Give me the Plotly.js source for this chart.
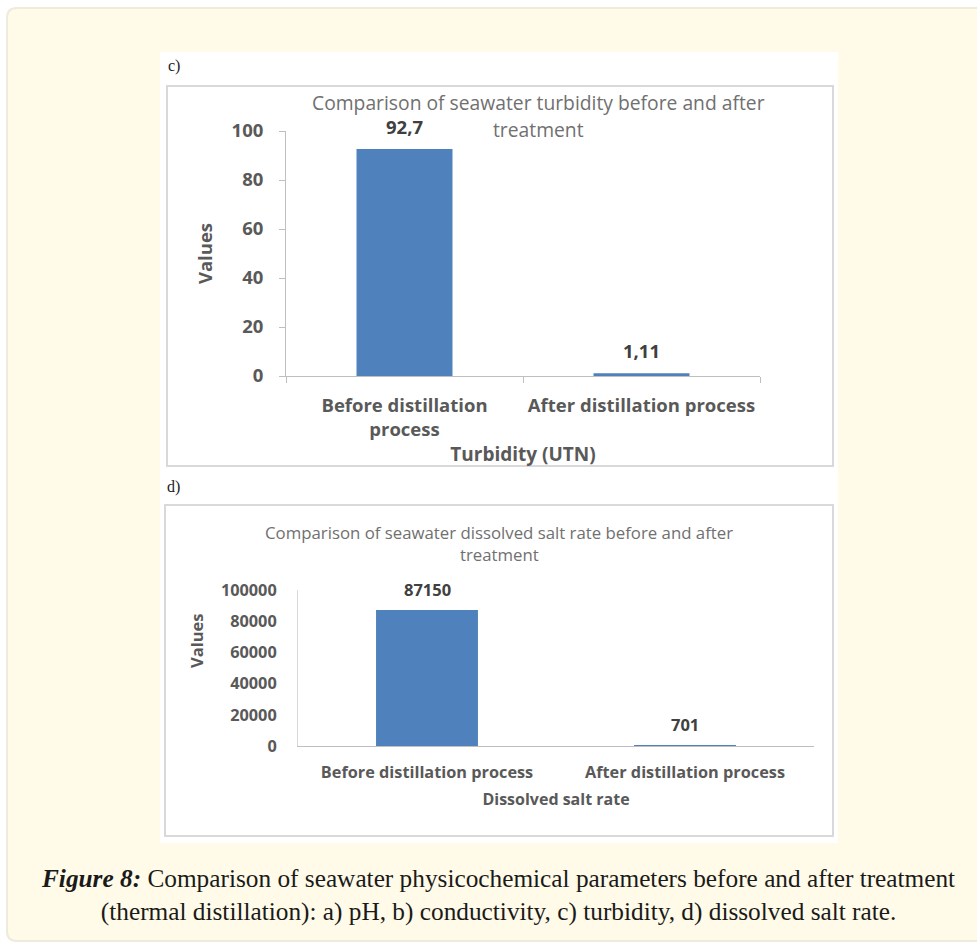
<!DOCTYPE html>
<html>
<head>
<meta charset="utf-8">
<script src="https://cdn.plot.ly/plotly-3.0.1.min.js"></script>
<style>
  html, body { margin: 0; padding: 0; background: #ffffff; }
  #fig { width: 977px; height: 943px; }
</style>
</head>
<body>
<div id="fig"></div>
<script>
// Categories shared by both panels
const categories = ["Before distillation process", "After distillation process"];
const turbidityTickText = ["Before distillation<br>process", "After distillation process"];

// Panel c: turbidity (UTN)
const turbidityValues = [92.7, 1.11];
// Panel d: dissolved salt rate
const saltValues = [87150, 701];

// Chart titles, one entry per printed line
const turbidityTitle = ["Comparison of seawater turbidity before and after", "treatment"];
const saltTitle = ["Comparison of seawater dissolved salt rate before and after", "treatment"];

const W = 977, H = 943;
const px = v => v / W;          // pixel -> paper x
const py = v => 1 - v / H;      // pixel -> paper y (from top)

const barColor = "#4f81bd";
const textGrey = "#595959";
const chartFont = "Open Sans";

// Decimal comma, as printed on the value labels
const fmt = v => String(v).replace(".", ",");

const traces = [
  {
    type: "bar", x: categories, y: turbidityValues,
    xaxis: "x", yaxis: "y", width: 0.405,
    marker: { color: barColor }, hoverinfo: "skip"
  },
  {
    type: "bar", x: categories, y: saltValues,
    xaxis: "x2", yaxis: "y2", width: 0.395,
    marker: { color: barColor }, hoverinfo: "skip"
  }
];

const annotations = [];

// value labels above the bars
turbidityValues.forEach((v, i) => annotations.push({
  xref: "x", yref: "y", x: categories[i], y: v, text: "<b>" + fmt(v) + "</b>",
  showarrow: false, yanchor: "bottom", yshift: 8,
  font: { family: chartFont, size: 18.5, color: "#404040" }
}));
saltValues.forEach((v, i) => annotations.push({
  xref: "x2", yref: "y2", x: categories[i], y: v, text: "<b>" + fmt(v) + "</b>",
  showarrow: false, yanchor: "bottom", yshift: 7,
  font: { family: chartFont, size: 16.5, color: "#404040" }
}));

// chart titles, drawn line by line
[103, 129].forEach((y, k) => annotations.push({
  xref: "paper", yref: "paper", x: px(538), y: py(y), text: turbidityTitle[k],
  showarrow: false, xanchor: "center", yanchor: "middle",
  font: { family: chartFont, size: 19.3, color: "#707070" }
}));
[532, 554].forEach((y, k) => annotations.push({
  xref: "paper", yref: "paper", x: px(499), y: py(y), text: saltTitle[k],
  showarrow: false, xanchor: "center", yanchor: "middle",
  font: { family: chartFont, size: 16.8, color: "#707070" }
}));

// panel letters
annotations.push({
  xref: "paper", yref: "paper", x: px(166), y: py(66), text: "c)",
  showarrow: false, xanchor: "left", yanchor: "middle",
  font: { family: "Liberation Serif", size: 16, color: "#222" }
});
annotations.push({
  xref: "paper", yref: "paper", x: px(165), y: py(487), text: "d)",
  showarrow: false, xanchor: "left", yanchor: "middle",
  font: { family: "Liberation Serif", size: 16, color: "#222" }
});

// y-axis title of panel d sits above the axis middle
annotations.push({
  xref: "paper", yref: "paper", x: px(196), y: py(641), text: "<b>Values</b>",
  showarrow: false, textangle: -90, xanchor: "center", yanchor: "middle",
  font: { family: chartFont, size: 16.5, color: textGrey }
});

// figure caption
annotations.push({
  xref: "paper", yref: "paper", x: px(498), y: py(895), text:
    "<b><i>Figure 8:</i></b> Comparison of seawater physicochemical parameters before and after treatment<br>" +
    "(thermal distillation): a) pH, b) conductivity, c) turbidity, d) dissolved salt rate.",
  showarrow: false, xanchor: "center", yanchor: "middle", align: "center",
  font: { family: "Liberation Serif", size: 25.3, color: "#1a1a1a" }
});

const shapes = [
  // cream card with rounded corners
  {
    type: "path", xref: "paper", yref: "paper", layer: "below",
    path: `M ${px(17)} ${py(8)} L ${px(990)} ${py(8)} L ${px(990)} ${py(941)} L ${px(17)} ${py(941)} ` +
          `Q ${px(7)} ${py(941)} ${px(7)} ${py(931)} L ${px(7)} ${py(18)} Q ${px(7)} ${py(8)} ${px(17)} ${py(8)} Z`,
    fillcolor: "#fffbe8", line: { color: "#ecebdc", width: 2 }
  },
  // white figure panel
  {
    type: "rect", xref: "paper", yref: "paper", layer: "below",
    x0: px(160), x1: px(838), y0: py(52), y1: py(843),
    fillcolor: "#ffffff", line: { width: 0 }
  },
  // chart frames
  {
    type: "rect", xref: "paper", yref: "paper", layer: "below",
    x0: px(167), x1: px(833), y0: py(86), y1: py(466),
    fillcolor: "rgba(0,0,0,0)", line: { color: "#d9d9d9", width: 2 }
  },
  {
    type: "rect", xref: "paper", yref: "paper", layer: "below",
    x0: px(165), x1: px(833), y0: py(505), y1: py(836),
    fillcolor: "rgba(0,0,0,0)", line: { color: "#d9d9d9", width: 2 }
  }
];

const tickFontC = { family: chartFont, size: 18.5, color: textGrey, weight: "bold" };
const tickFontD = { family: chartFont, size: 16.3, color: textGrey, weight: "bold" };

const layout = {
  width: W, height: H,
  margin: { l: 0, r: 0, t: 0, b: 0 },
  paper_bgcolor: "#ffffff",
  plot_bgcolor: "rgba(0,0,0,0)",
  showlegend: false,
  xaxis: {
    domain: [px(286), px(760)], anchor: "y",
    tickvals: categories, ticktext: turbidityTickText,
    ticks: "outside", tickson: "boundaries", ticklen: 6, tickcolor: "#bfbfbf",
    showline: true, linecolor: "#bfbfbf", linewidth: 1,
    tickfont: tickFontC, ticklabelstandoff: 13,
    title: { text: "<b>Turbidity (UTN)</b>", font: { family: chartFont, size: 19, color: textGrey }, standoff: 3 },
    fixedrange: true
  },
  yaxis: {
    domain: [py(376), py(131)], anchor: "x",
    range: [0, 100], tickvals: [0, 20, 40, 60, 80, 100], tickformat: "d",
    ticks: "outside", ticklen: 6, tickcolor: "#bfbfbf",
    showline: true, linecolor: "#bfbfbf", linewidth: 1,
    showgrid: false, zeroline: false,
    tickfont: tickFontC, ticklabelstandoff: 12,
    title: { text: "<b>Values</b>", font: { family: chartFont, size: 18.5, color: textGrey }, standoff: 14 },
    fixedrange: true
  },
  xaxis2: {
    domain: [px(298), px(814)], anchor: "y2",
    tickvals: categories, ticktext: categories,
    ticks: "", showline: true, linecolor: "#bfbfbf", linewidth: 1,
    tickfont: tickFontD, ticklabelstandoff: 11,
    title: { text: "<b>Dissolved salt rate</b>", font: { family: chartFont, size: 16, color: textGrey }, standoff: 12 },
    fixedrange: true
  },
  yaxis2: {
    domain: [py(746), py(590)], anchor: "x2",
    range: [0, 100000], tickvals: [0, 20000, 40000, 60000, 80000, 100000], tickformat: "d",
    ticks: "", showline: true, linecolor: "#d9d9d9", linewidth: 1,
    showgrid: false, zeroline: false,
    tickfont: tickFontD, ticklabelstandoff: 17,
    fixedrange: true
  },
  annotations: annotations,
  shapes: shapes
};

Plotly.newPlot("fig", traces, layout, { displayModeBar: false, staticPlot: true });
</script>
</body>
</html>
